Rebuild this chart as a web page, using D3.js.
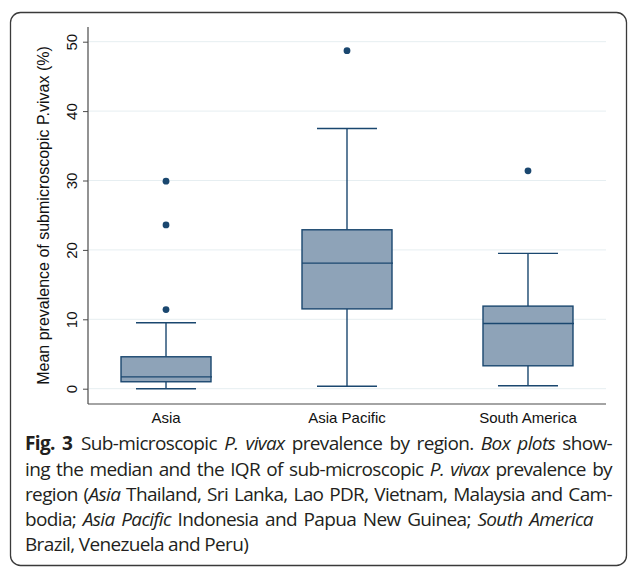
<!DOCTYPE html>
<html><head><meta charset="utf-8">
<script src="https://cdn.jsdelivr.net/npm/d3@7"></script>
<style>body{margin:0;background:#fff}svg{display:block}</style>
</head><body>
<svg id="c" width="629" height="569"></svg>
<script>
// ---- data ----
const categories = ["Asia", "Asia Pacific", "South America"];
const lowerWhisker = [0.0, 0.35, 0.43];
const q1 = [1.0, 11.5, 3.3];
const median = [1.7, 18.1, 9.4];
const q3 = [4.6, 22.9, 11.9];
const upperWhisker = [9.5, 37.5, 19.5];
const outliers = [[11.4, 23.6, 29.9], [48.7], [31.4]];
const yTicks = [0, 10, 20, 30, 40, 50];
const yTitle = "Mean prevalence of submicroscopic P.vivax (%)";
const captionLines = [
  [["b", "Fig. 3"], ["r", "\u2002Sub-microscopic "], ["i", "P. vivax"], ["r", " prevalence by region. "], ["i", "Box plots"], ["r", " show-"]],
  [["r", "ing the median and the IQR of sub-microscopic "], ["i", "P. vivax"], ["r", " prevalence by"]],
  [["r", "region ("], ["i", "Asia"], ["r", " Thailand, Sri Lanka, Lao PDR, Vietnam, Malaysia and Cam-"]],
  [["r", "bodia; "], ["i", "Asia Pacific"], ["r", " Indonesia and Papua New Guinea; "], ["i", "South America"]],
  [["r", "Brazil, Venezuela and Peru)"]]
];
const captionRight = [612, 612, 612, 593, null];

// ---- layout ----
const svg = d3.select("#c");
const plotL = 88, plotR = 606, axisBottom = 404, axisTop = 27;
const y = d3.scaleLinear().domain([0, 50]).range([388.7, 41.7]);
const x = d3.scalePoint().domain(categories).range([plotL, plotR]).padding(0.431);
const boxW = 90, capW = 60;
const navy = "#1a476f", fill = "#8ea3b8";

// frame
svg.append("rect").attr("x", 10.5).attr("y", 12.5).attr("width", 616).attr("height", 553)
  .attr("rx", 10).attr("fill", "none").attr("stroke", "#3a3a3a").attr("stroke-width", 1.3);

// gridlines
svg.append("g").selectAll("line").data(yTicks).join("line")
  .attr("x1", plotL + 1).attr("x2", plotR).attr("y1", d => y(d)).attr("y2", d => y(d))
  .attr("stroke", "#e6eef1").attr("stroke-width", 1);

// y axis
const yAxis = svg.append("g").attr("transform", `translate(${plotL},0)`)
  .call(d3.axisLeft(y).tickValues(yTicks).tickSize(5).tickSizeOuter(0));
yAxis.select(".domain").remove();
yAxis.selectAll(".tick line").attr("stroke", "#4a4a4a");
yAxis.selectAll(".tick text").attr("transform", "rotate(-90)").attr("x", 0).attr("y", -11.5)
  .attr("dy", 0).attr("text-anchor", "middle")
  .attr("font-family", "Liberation Sans, Arial, sans-serif").attr("font-size", 15).attr("fill", "#111");
svg.append("line").attr("x1", plotL).attr("x2", plotL).attr("y1", axisTop).attr("y2", axisBottom)
  .attr("stroke", "#4a4a4a").attr("stroke-width", 1.2);
svg.append("line").attr("x1", plotL).attr("x2", plotR).attr("y1", axisBottom).attr("y2", axisBottom)
  .attr("stroke", "#4a4a4a").attr("stroke-width", 1.2);

// y title
svg.append("text").attr("transform", `translate(49,${(axisTop + axisBottom) / 2}) rotate(-90)`)
  .attr("text-anchor", "middle").attr("font-family", "Liberation Sans, Arial, sans-serif")
  .attr("font-size", 16).attr("fill", "#111").text(yTitle);

// x labels
svg.append("g").selectAll("text").data(categories).join("text")
  .attr("x", d => x(d)).attr("y", 422.5).attr("text-anchor", "middle")
  .attr("font-family", "Liberation Sans, Arial, sans-serif").attr("font-size", 15).attr("fill", "#111")
  .text(d => d);

// boxes
const g = svg.append("g");
categories.forEach((c, i) => {
  const cx = x(c);
  const gg = g.append("g").attr("stroke", navy).attr("stroke-width", 1.4);
  gg.append("line").attr("x1", cx).attr("x2", cx).attr("y1", y(q3[i])).attr("y2", y(upperWhisker[i]));
  gg.append("line").attr("x1", cx).attr("x2", cx).attr("y1", y(q1[i])).attr("y2", y(lowerWhisker[i]));
  gg.append("line").attr("x1", cx - capW / 2).attr("x2", cx + capW / 2).attr("y1", y(upperWhisker[i])).attr("y2", y(upperWhisker[i]));
  gg.append("line").attr("x1", cx - capW / 2).attr("x2", cx + capW / 2).attr("y1", y(lowerWhisker[i])).attr("y2", y(lowerWhisker[i]));
  gg.append("rect").attr("x", cx - boxW / 2).attr("width", boxW)
    .attr("y", y(q3[i])).attr("height", y(q1[i]) - y(q3[i])).attr("fill", fill);
  gg.append("line").attr("x1", cx - boxW / 2).attr("x2", cx + boxW / 2 + 1).attr("y1", y(median[i])).attr("y2", y(median[i]));
  gg.selectAll("circle").data(outliers[i]).join("circle")
    .attr("cx", cx).attr("cy", d => y(d)).attr("r", 3.4).attr("fill", navy).attr("stroke", "none");
});

// caption
const capBase = [450, 476, 501, 526, 551];
const capX = 25;
captionLines.forEach((parts, li) => {
  const t = svg.append("text").attr("x", capX).attr("y", capBase[li])
    .attr("font-family", "Open Sans, sans-serif").attr("font-size", 19).attr("fill", "#231f20")
    .attr("letter-spacing", -0.65);
  parts.forEach(([s, txt]) => {
    const ts = t.append("tspan").text(txt);
    if (s === "b") ts.attr("font-weight", "bold");
    if (s === "i") ts.attr("font-style", "italic");
  });
  const target = captionRight[li];
  if (target != null) {
    const L = t.node().getComputedTextLength();
    const full = parts.map(p => p[1]).join("");
    const n = (full.match(/ /g) || []).length;
    if (n > 0) t.attr("word-spacing", ((target - capX) - L) / n);
  }
});
</script>
</body></html>
